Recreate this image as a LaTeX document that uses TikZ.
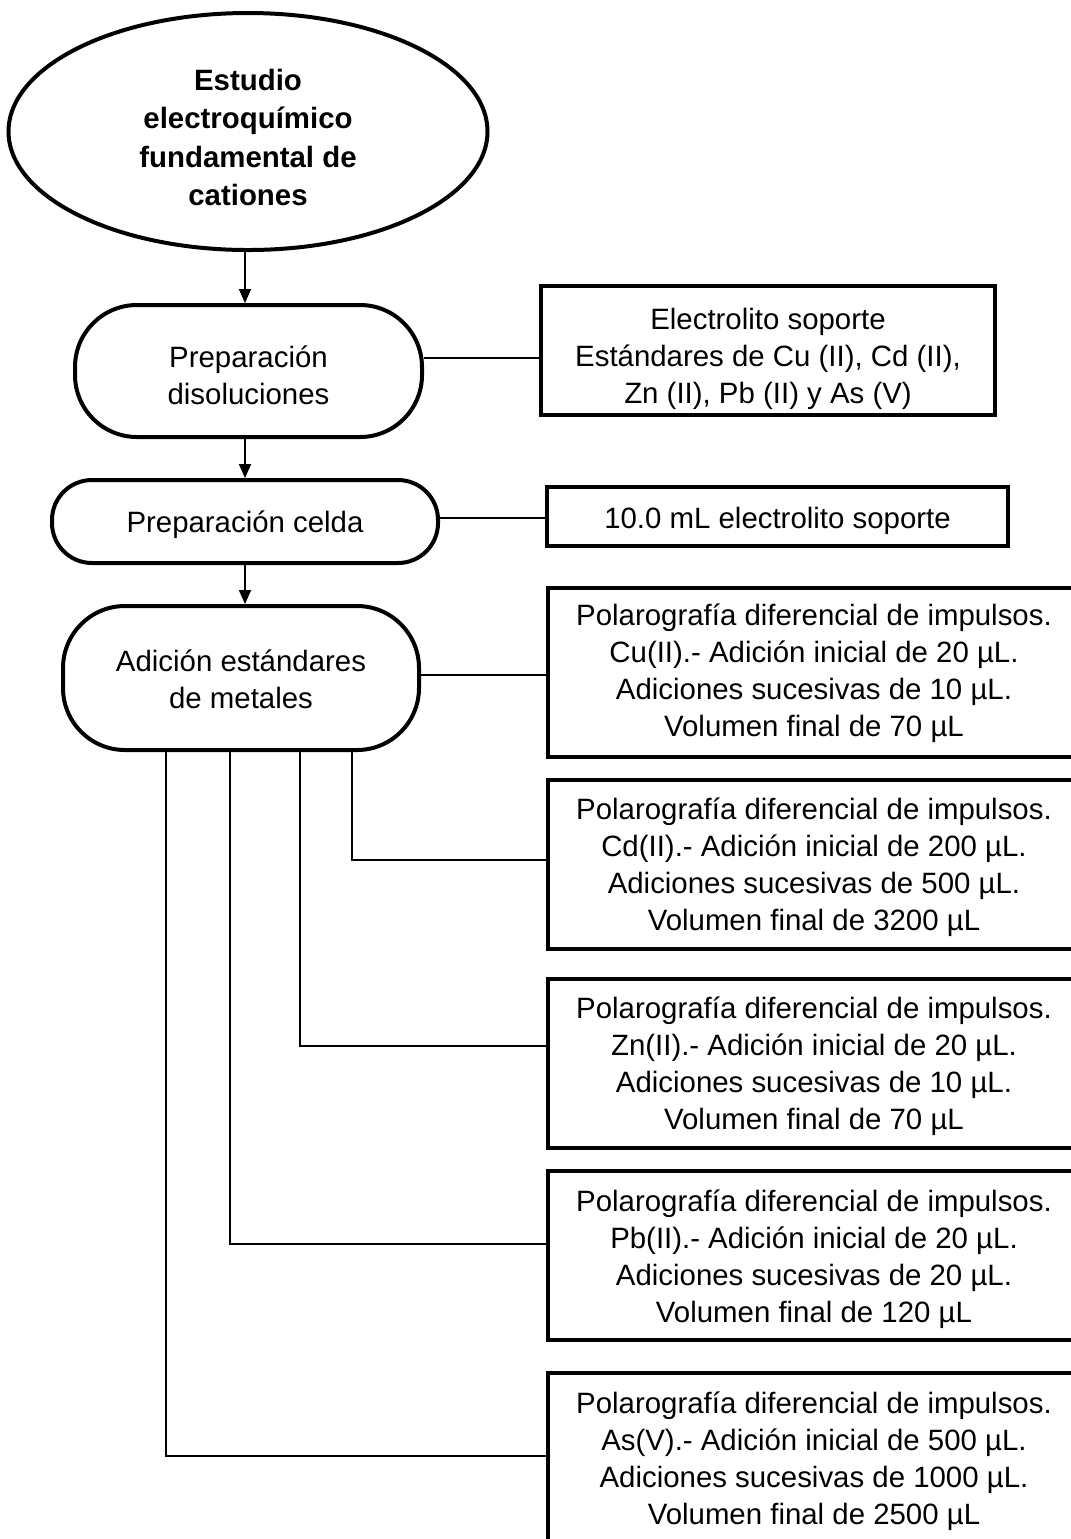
\documentclass[tikz,border=0pt]{standalone}
\usepackage{fontspec}
\setmainfont{Liberation Sans}
\usetikzlibrary{arrows.meta,shapes.geometric}
\begin{document}
\begin{tikzpicture}[x=0.5pt,y=-0.5pt,
  every node/.style={font=\fontsize{14.7}{18.5}\selectfont, inner sep=0pt, align=center},
  startnode/.style={ellipse, draw, line width=2pt},
  boldtext/.style={font=\fontsize{14.7}{19.2}\selectfont\bfseries},
  term/.style={draw, line width=2pt, rectangle, rounded corners=#1},
  term/.default=31pt,
  infobox/.style={draw, line width=2pt, rectangle},
  stdbox/.style={infobox, minimum width=266pt, minimum height=84.5pt},
  link/.style={line width=0.9pt},
  flow/.style={line width=0.9pt, -{Triangle[width=6pt,length=7pt]}}
]
\useasboundingbox (0,0) rectangle (1071,1539);
\clip (0,0) rectangle (1071,1539);

% main column: shapes
\node[startnode, minimum width=239.5pt, minimum height=118.5pt] (start) at (248,131.5) {};
\node[term, minimum width=173.5pt, minimum height=66pt] (prep) at (248.5,371) {};
\node[term=20pt, minimum width=193pt, minimum height=41.5pt] (celda) at (245,521.5) {};
\node[term, minimum width=178pt, minimum height=72pt] (adic) at (241,678) {};

% main column: texts
\node[boldtext] (start-t) at ([yshift=-3pt]start.center)
  {Estudio\\electroquímico\\fundamental de\\cationes};
\node (prep-t) at ([yshift=-2pt]prep.center) {Preparación\\disoluciones};
\node (celda-t) at ([yshift=-1.5pt]celda.center) {Preparación celda};
\node (adic-t) at ([yshift=-0.5pt]adic.center) {Adición estándares\\de metales};

% detail boxes: shapes
\node[infobox, minimum width=227pt, minimum height=64.5pt] (sol) at (768,350.5) {};
\node[infobox, minimum width=230.5pt, minimum height=29.5pt] (vol) at (777.5,516.5) {};
\node[stdbox] (cu) at (814,672.5) {};
\node[stdbox] (cd) at (814,864) {};
\node[stdbox] (zn) at (814,1063) {};
\node[stdbox] (pb) at (814,1255) {};
\node[stdbox] (asv) at (814,1457) {};

% detail boxes: texts
\node (sol-t) at ([yshift=-4pt]sol.center)
  {Electrolito soporte\\Estándares de Cu (II), Cd (II),\\Zn (II), Pb (II) y As (V)};
\node (vol-t) at ([yshift=-2pt]vol.center) {10.0 mL electrolito soporte};
\node (cu-t) at ([yshift=-0.5pt]cu.center)
  {Polarografía diferencial de impulsos.\\Cu(II).- Adición inicial de 20 µL.\\Adiciones sucesivas de 10 µL.\\Volumen final de 70 µL};
\node (cd-t) at ([yshift=-1.5pt]cd.center)
  {Polarografía diferencial de impulsos.\\Cd(II).- Adición inicial de 200 µL.\\Adiciones sucesivas de 500 µL.\\Volumen final de 3200 µL};
\node (zn-t) at ([yshift=-1.5pt]zn.center)
  {Polarografía diferencial de impulsos.\\Zn(II).- Adición inicial de 20 µL.\\Adiciones sucesivas de 10 µL.\\Volumen final de 70 µL};
\node (pb-t) at ([yshift=-2pt]pb.center)
  {Polarografía diferencial de impulsos.\\Pb(II).- Adición inicial de 20 µL.\\Adiciones sucesivas de 20 µL.\\Volumen final de 120 µL};
\node (asv-t) at ([yshift=-2pt]asv.center)
  {Polarografía diferencial de impulsos.\\As(V).- Adición inicial de 500 µL.\\Adiciones sucesivas de 1000 µL.\\Volumen final de 2500 µL};

% flow arrows
\draw[flow] (start.south -| celda) -- (prep.north -| celda);
\draw[flow] (prep.south -| celda) -- (celda.north);
\draw[flow] (celda.south) -- (adic.north -| celda);

% side links
\draw[link] ([yshift=-3.75pt]sol.west) -- ([yshift=-3.75pt]sol.west -| prep.east);
\draw[link] ([yshift=-0.75pt]vol.west) -- ([yshift=-0.75pt]vol.west -| celda.east);
\draw[link] ([yshift=-1.25pt]cu.west) -- ([yshift=-1.25pt]cu.west -| adic.east);
\draw[link] ([xshift=55.5pt]adic.south) |- ([yshift=2pt]cd.west);
\draw[link] ([xshift=29.5pt]adic.south) |- ([yshift=8.5pt]zn.west);
\draw[link] ([xshift=-5.5pt]adic.south) |- ([yshift=5.5pt]pb.west);
\draw[link] ([xshift=-37.5pt]adic.south) |- ([yshift=0.5pt]asv.west);
\end{tikzpicture}
\end{document}
